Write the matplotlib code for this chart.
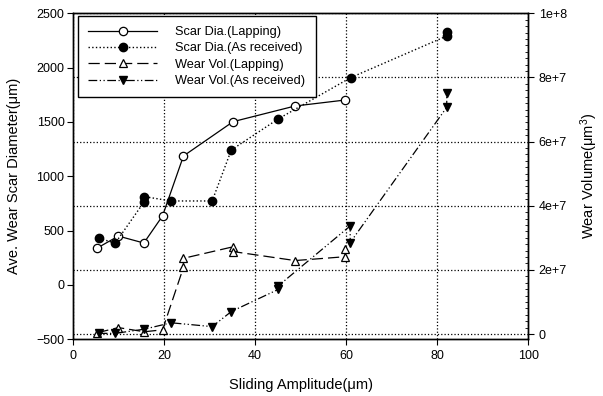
import matplotlib
matplotlib.use("Agg")
import matplotlib.pyplot as plt
from matplotlib.ticker import MultipleLocator, FuncFormatter

plt.rcParams['font.family'] = ['Liberation Sans', 'DejaVu Sans']
plt.rcParams['mathtext.fontset'] = 'custom'
plt.rcParams['mathtext.rm'] = 'Liberation Sans'
plt.rcParams['mathtext.default'] = 'regular'

# data
x_scar_lap = [5.3, 10.0, 15.6, 19.7, 24.3, 35.2, 48.8, 59.8]
scar_lap = [338, 450, 386, 635, 1187, 1503, 1647, 1702]

x_scar_ar = [5.8, 9.3, 15.7, 15.7, 21.6, 30.6, 34.8, 45.1, 61.0, 82.1, 82.1]
scar_ar = [430, 384, 767, 813, 773, 773, 1242, 1528, 1908, 2291, 2331]

x_vol_lap = [5.4, 10.0, 15.7, 19.7, 24.3, 24.3, 35.2, 35.2, 48.8, 59.8, 59.8]
vol_lap = [0.04e7, 0.2e7, 0.07e7, 0.13e7, 2.08e7, 2.36e7, 2.72e7, 2.57e7, 2.29e7, 2.41e7, 2.65e7]

x_vol_ar = [5.7, 9.3, 15.7, 21.6, 30.6, 34.8, 45.1, 45.1, 60.9, 60.9, 82.1, 82.1]
vol_ar = [0.02e7, 0.02e7, 0.15e7, 0.35e7, 0.23e7, 0.70e7, 1.39e7, 1.50e7, 3.37e7, 2.85e7, 7.07e7, 7.50e7]

fig = plt.figure(figsize=(6.03, 3.96), dpi=100)
ax = fig.add_axes([0.1207, 0.1432, 0.7554, 0.8232])
ax2 = ax.twinx()

ms = 6
l1, = ax.plot(x_scar_lap, scar_lap, '-', color='black', lw=0.9, marker='o',
              mfc='white', mec='black', ms=ms, mew=0.9, label='Scar Dia.(Lapping)')
l2, = ax.plot(x_scar_ar, scar_ar, ':', color='black', lw=1.0, marker='o',
              mfc='black', mec='black', ms=ms, label='Scar Dia.(As received)')
l3, = ax2.plot(x_vol_lap, vol_lap, color='black', lw=0.9, dashes=(9, 4), marker='^',
               mfc='white', mec='black', ms=ms, mew=0.9, label='Wear Vol.(Lapping)')
l4, = ax2.plot(x_vol_ar, vol_ar, color='black', lw=0.9, dashes=(7, 2, 1, 2, 1, 2), marker='v',
               mfc='black', mec='black', ms=ms, label='Wear Vol.(As received)')

ax.set_xlim(0, 100)
ax.set_ylim(-500, 2500)
ax2.set_ylim(-1.65e6, 1e8)

ax.xaxis.set_major_locator(MultipleLocator(20))
ax.yaxis.set_major_locator(MultipleLocator(500))
ax2.yaxis.set_major_locator(MultipleLocator(2e7))
ax2.yaxis.set_minor_locator(MultipleLocator(2e6))

def vol_fmt(v, pos):
    if abs(v) < 1:
        return '0'
    e = 0
    m = v
    while m >= 10:
        m /= 10
        e += 1
    return '%de+%d' % (round(m), e)

ax2.yaxis.set_major_formatter(FuncFormatter(vol_fmt))

ax.tick_params(axis='both', direction='out', length=4, width=0.8, labelsize=9, colors='black')
ax.tick_params(axis='y', pad=2)
ax2.tick_params(axis='y', which='major', direction='out', length=4.5, width=0.8, labelsize=9, pad=3)
ax2.tick_params(axis='y', which='minor', direction='in', length=2, width=0.6)

for a in (ax, ax2):
    for s in a.spines.values():
        s.set_linewidth(1.0)
        s.set_color('black')

ax.xaxis.grid(True, linestyle=':', color='black', lw=0.9)
ax2.yaxis.grid(True, linestyle=':', color='black', lw=0.9)

ax.set_xlabel('Sliding Amplitude(μm)', fontsize=10.5, labelpad=11.5)
ax.set_ylabel('Ave. Wear Scar Diameter(μm)', fontsize=10.5, labelpad=11)
ax2.set_ylabel('Wear Volume(μm$^3$)', fontsize=10.5, labelpad=8)

leg = ax2.legend(handles=[l1, l2, l3, l4], loc='upper left', bbox_to_anchor=(0.012, 0.992),
                 fontsize=9.2, handlelength=5.4, handletextpad=1.4, labelspacing=0.34,
                 borderpad=0.8, borderaxespad=0, fancybox=False, framealpha=1,
                 edgecolor='black')
leg.get_frame().set_linewidth(1.0)

fig.savefig('out.png', dpi=100)
